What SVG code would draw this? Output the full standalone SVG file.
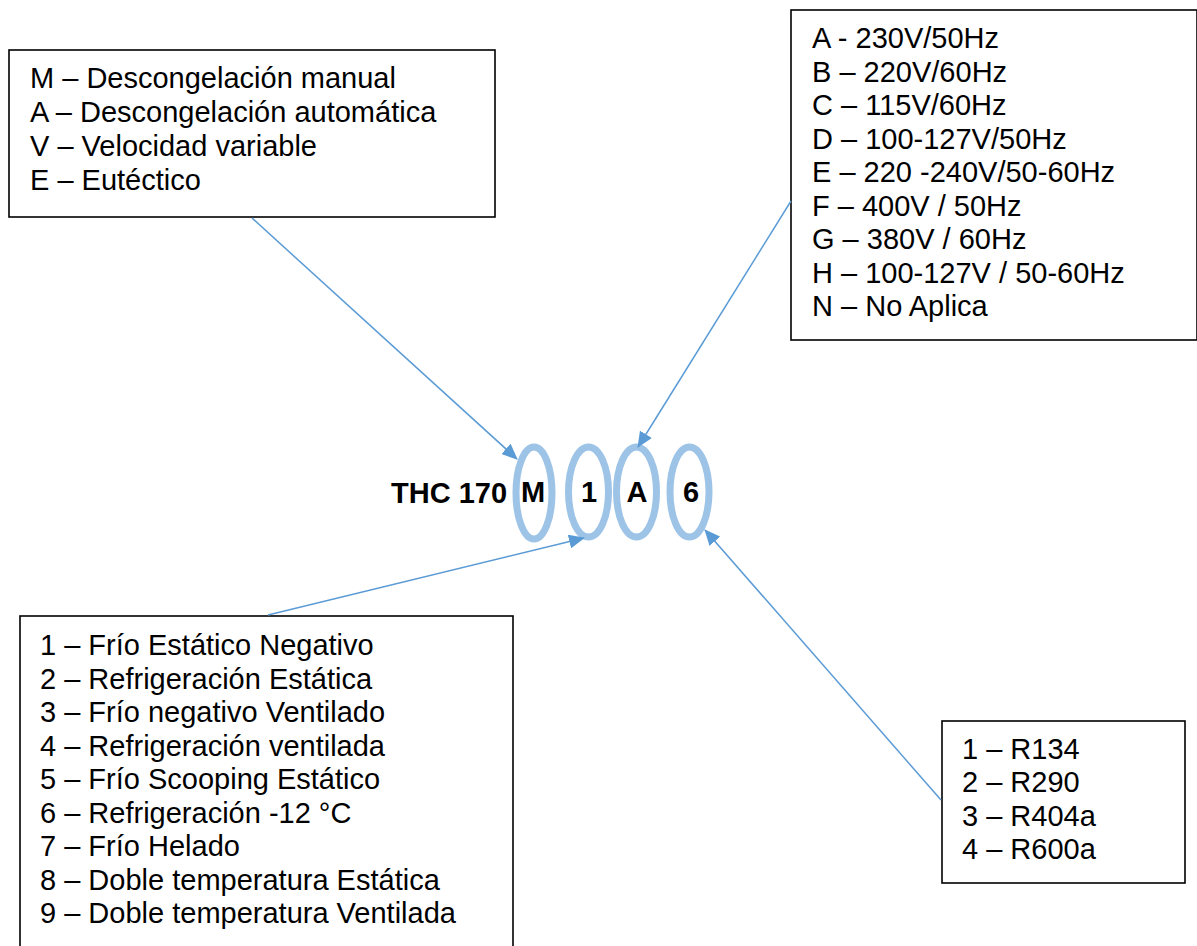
<svg xmlns="http://www.w3.org/2000/svg" width="1197" height="946" viewBox="0 0 1197 946">
  <style>
    .box { fill: #fff; stroke: #000; stroke-width: 1.6; }
    .lbl { font-family: "Liberation Sans", Arial, sans-serif; font-size: 29px; fill: #000; }
    .code { font-family: "Liberation Sans", Arial, sans-serif; font-size: 29px; font-weight: bold; fill: #000; }
    .ring { fill: none; stroke: #9DC3E6; stroke-width: 7; }
    .conn { fill: none; stroke: #5B9BD5; stroke-width: 1.5; marker-end: url(#arrow); }
  </style>
  <defs>
    <marker id="arrow" markerUnits="userSpaceOnUse" markerWidth="16" markerHeight="14" refX="15" refY="7" orient="auto">
      <path d="M0,0 L16,7 L0,14 Z" fill="#5B9BD5"/>
    </marker>
  </defs>
  <rect width="1197" height="946" fill="#fff"/>

  <!-- defrost type legend -->
  <g id="defrost">
    <rect class="box" x="9" y="50" width="486" height="167"/>
    <text class="lbl" x="30" y="88">M – Descongelación manual</text>
    <text class="lbl" x="30" y="122">A – Descongelación automática</text>
    <text class="lbl" x="30" y="156">V – Velocidad variable</text>
    <text class="lbl" x="30" y="190">E – Eutéctico</text>
  </g>

  <!-- supply voltage legend -->
  <g id="voltage">
    <rect class="box" x="791" y="10" width="406" height="330"/>
    <text class="lbl" x="812" y="48">A - 230V/50Hz</text>
    <text class="lbl" x="812" y="81.5">B – 220V/60Hz</text>
    <text class="lbl" x="812" y="115">C – 115V/60Hz</text>
    <text class="lbl" x="812" y="148.5">D – 100-127V/50Hz</text>
    <text class="lbl" x="812" y="182">E – 220 -240V/50-60Hz</text>
    <text class="lbl" x="812" y="215.5">F – 400V / 50Hz</text>
    <text class="lbl" x="812" y="249">G – 380V / 60Hz</text>
    <text class="lbl" x="812" y="282.5">H – 100-127V / 50-60Hz</text>
    <text class="lbl" x="812" y="316">N – No Aplica</text>
  </g>

  <!-- cabinet type legend -->
  <g id="cabinet">
    <rect class="box" x="20" y="616" width="493" height="345"/>
    <text class="lbl" x="40" y="655">1 – Frío Estático Negativo</text>
    <text class="lbl" x="40" y="688.5">2 – Refrigeración Estática</text>
    <text class="lbl" x="40" y="722">3 – Frío negativo Ventilado</text>
    <text class="lbl" x="40" y="755.5">4 – Refrigeración ventilada</text>
    <text class="lbl" x="40" y="789">5 – Frío Scooping Estático</text>
    <text class="lbl" x="40" y="822.5">6 – Refrigeración -12 °C</text>
    <text class="lbl" x="40" y="856">7 – Frío Helado</text>
    <text class="lbl" x="40" y="889.5">8 – Doble temperatura Estática</text>
    <text class="lbl" x="40" y="923">9 – Doble temperatura Ventilada</text>
  </g>

  <!-- refrigerant legend -->
  <g id="refrigerant">
    <rect class="box" x="942" y="721" width="243" height="162"/>
    <text class="lbl" x="962" y="759">1 – R134</text>
    <text class="lbl" x="962" y="792">2 – R290</text>
    <text class="lbl" x="962" y="826">3 – R404a</text>
    <text class="lbl" x="962" y="859">4 – R600a</text>
  </g>

  <!-- model code with highlighted positions -->
  <g id="model-code">
    <text class="code" x="391" y="503">THC 170</text>
    <ellipse class="ring" cx="534" cy="493" rx="18" ry="46"/>
    <ellipse class="ring" cx="588.5" cy="492" rx="20" ry="45"/>
    <ellipse class="ring" cx="636.5" cy="492" rx="20" ry="45"/>
    <ellipse class="ring" cx="689.5" cy="492" rx="19.5" ry="45"/>
    <text class="code" x="533" y="502" text-anchor="middle">M</text>
    <text class="code" x="589" y="502" text-anchor="middle">1</text>
    <text class="code" x="637" y="502" text-anchor="middle">A</text>
    <text class="code" x="691" y="502" text-anchor="middle">6</text>
  </g>

  <!-- connectors -->
  <g id="connectors">
    <line class="conn" x1="252" y1="218" x2="517" y2="459"/>
    <line class="conn" x1="791" y1="201" x2="638" y2="447"/>
    <line class="conn" x1="268" y1="615" x2="584" y2="538"/>
    <line class="conn" x1="941" y1="800" x2="705" y2="530"/>
  </g>
</svg>
